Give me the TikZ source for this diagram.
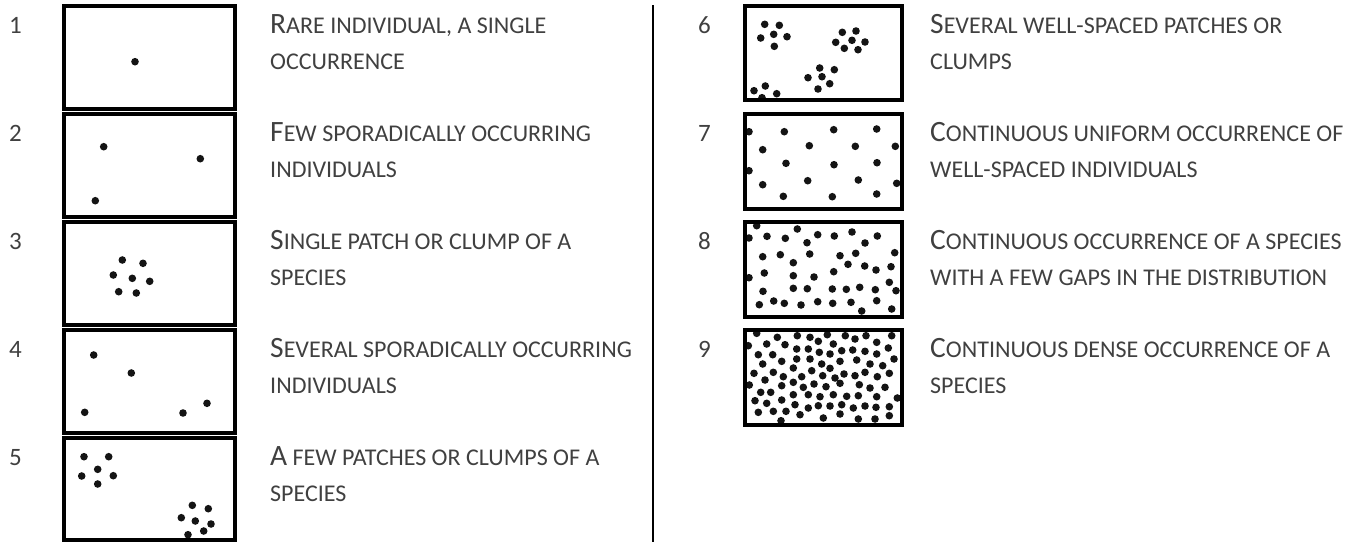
\documentclass[tikz,border=0pt]{standalone}
\usepackage{fontspec}
\setmainfont{Carlito}
\definecolor{txt}{HTML}{404040}
\newcommand\bigsz{29.5}
\newcommand\smsz{24}
\newcommand\labtext[3]{\parbox[t]{460pt}{\raggedright\fontsize{\bigsz}{36}\selectfont #1{\fontsize{\smsz}{36}\selectfont #2}\\{\fontsize{\smsz}{36}\selectfont #3}}}
\begin{document}
\begin{tikzpicture}[x=1pt,y=-1pt,
  box/.style={draw=black, line width=4pt, inner sep=0pt},
  lbox/.style={box, minimum width=171pt, minimum height=103pt},
  rbox/.style={box, minimum width=157pt, minimum height=95pt},
  num/.style={anchor=base west, inner sep=0pt, text=txt, font=\fontsize{25}{25}\selectfont},
  lab/.style={anchor=base west, inner sep=0pt, text=txt}]
\newcommand\dotsin[5]{\begin{scope}\clip (#1,#2) rectangle (#3,#4);
  \foreach \p in {#5} \fill[black!92] \p circle (3.8pt);\end{scope}}
\useasboundingbox (0,0) rectangle (1361,542);
% divider
\coordinate (dtop) at (653,5);
\coordinate (dbot) at (653,542);
\draw[line width=2pt] (dtop) -- (dbot);
% dots
\dotsin{62}{4}{237}{111}{(135,61.7)}
\dotsin{62}{112}{237}{219}{(103.7,146.7),(200.3,158.7),(95.3,200.7)}
\dotsin{62}{220}{237}{327}{(122.3,260),(143,263.3),(113.3,275),(132.3,278.3),(149.7,281.3),(118.7,291.7),(136.3,293)}
\dotsin{62}{328}{237}{435}{(93.7,355),(131.3,373),(84.7,412.3),(183,413),(207,403.3)}
\dotsin{62}{436}{237}{542}{(84,456.7),(108.7,456.7),(97.7,469.3),(81.7,476),(113.3,475.7),(97.7,484),(192.3,505.3),(208.3,508.7),(181.3,517.7),(195.3,521),(211,524),(203.7,531),(188,534.7)}
\dotsin{743}{4}{904}{102}{(764.7,24.3),(779.3,25.3),(773.7,34.3),(760.7,38),(787,36.7),(774.3,46.3),(842.3,32.3),(856,31),(852,40.3),(835.7,42.3),(865,42),(844.3,48.3),(858,49.7),(819.7,68),(834.3,69.7),(808,77.7),(822,76.7),(829.7,83.7),(818,89),(765.3,86),(754,90.7),(776.7,93.7),(762,97.7)}
\dotsin{743}{112}{904}{211}{(749,131.7),(784.3,131.7),(833.7,129.7),(876.7,129),(762.7,149.7),(809.3,145.7),(855.3,146.3),(895.3,146.3),(786,163.3),(834,164.7),(877,162.7),(749,170.7),(762.7,184.7),(807.7,180.7),(858.3,180),(896.7,183.3),(783.3,196.3),(832.3,196.7),(876.7,194)}
\dotsin{743}{220}{904}{319}{(756.7,225.7),(749,238),(767,236.3),(785.3,238.3),(797.3,229),(807,242.7),(817.7,234.7),(834.3,236),(852,232),(865,243),(877.3,236),(762.7,256.7),(780.3,254.7),(809.7,254),(840,255.7),(855.7,253.3),(894.7,252.7),(793.3,262.7),(848,264.3),(864.7,266),(876,270),(891,266.7),(749,277.7),(764.3,273),(793.3,275.7),(814,277),(833.7,271.7),(889.3,282.3),(763,291.3),(793.3,288.3),(807.3,288.7),(832.3,289),(846.3,289.3),(859.7,287.3),(875.3,289.7),(896,290.7),(759.3,304.7),(773.7,301),(784.3,303.3),(801,305),(817.7,301.7),(832.7,303.3),(851,302.3),(876.7,300.7),(861.7,311),(891.7,309)}
\dotsin{743}{328}{904}{427}{(756.7,333.3),(777.3,337.3),(797.3,335.7),(810,337.3),(827.3,334.7),(845.3,335.7),(855,339),(866,335.7),(891.7,335.7),(748.3,345.7),(766.7,344),(785,344.7),(796.7,349),(808.3,349),(818.3,341.3),(833.3,344),(841.7,350.7),(852.7,350),(865,351.3),(876.7,342.3),(888.3,348),(758.3,354.7),(772.7,354.7),(796.7,359),(810,359),(819.3,352.3),(830,354),(840,361.3),(856.7,360),(876.7,354),(894,359),(762.7,364),(781.7,361.3),(793.3,368),(821.7,364),(830,368.3),(870,364),(882.7,365.7),(754,373.3),(773.3,372.3),(783.3,376.7),(801.7,376.7),(811.7,370.7),(822.7,375.7),(835,378),(844,374),(855,375.7),(865,372.3),(877.3,376.7),(889.3,373.3),(765,380),(793.3,382.3),(814,384),(826,386.7),(840,383.3),(859.3,384.7),(870,388),(885,387.3),(749.3,385),(781.7,385.7),(803.3,387.3),(760.7,392.3),(770.7,392.3),(793.3,394.7),(808.3,394.7),(820,396.7),(833.3,394.7),(846.7,396.3),(858.3,395.7),(876.7,396.7),(897.3,398),(755,400.7),(781.7,400),(766.7,403.3),(795,404.7),(808.3,408),(818.3,405.7),(830,406),(841.7,404.7),(853.3,408),(865,406),(876,407.3),(889.3,406.7),(758.3,412.3),(773.3,411.3),(786,411.3),(800,414.7),(823.3,418),(840,414),(858.3,419),(875,419),(889.3,415.7),(781,420.7)}
% left boxes
\node[lbox] (b1) at (149.5,57.5) {};
\node[lbox] (b2) at (149.5,165.5) {};
\node[lbox] (b3) at (149.5,273.5) {};
\node[lbox] (b4) at (149.5,381.5) {};
\node[lbox, minimum height=102pt] (b5) at (149.5,489) {};
% right boxes
\node[rbox, minimum height=94pt] (b6) at (823.5,53) {};
\node[rbox] (b7) at (823.5,161.5) {};
\node[rbox] (b8) at (823.5,269.5) {};
\node[rbox] (b9) at (823.5,377.5) {};
% numbers
\node[num] (n1) at (9,33) {1};
\node[num] (n2) at (9,141) {2};
\node[num] (n3) at (9,249) {3};
\node[num] (n4) at (9,357) {4};
\node[num] (n5) at (9,465) {5};
\node[num] (n6) at (698,33) {6};
\node[num] (n7) at (698,141) {7};
\node[num] (n8) at (698,249) {8};
\node[num] (n9) at (698,357) {9};
% labels
\node[lab] (t1) at (270,33) {\labtext{R}{ARE INDIVIDUAL, A SINGLE}{OCCURRENCE}};
\node[lab] (t2) at (270,141) {\labtext{F}{EW SPORADICALLY OCCURRING}{INDIVIDUALS}};
\node[lab] (t3) at (270,249) {\labtext{S}{INGLE PATCH OR CLUMP OF A}{SPECIES}};
\node[lab] (t4) at (270,357) {\labtext{S}{EVERAL SPORADICALLY OCCURRING}{INDIVIDUALS}};
\node[lab] (t5) at (270,465) {\labtext{A}{ FEW PATCHES OR CLUMPS OF A}{SPECIES}};
\node[lab] (t6) at (930,33) {\labtext{S}{EVERAL WELL-SPACED PATCHES OR}{CLUMPS}};
\node[lab] (t7) at (930,141) {\labtext{C}{ONTINUOUS UNIFORM OCCURRENCE OF}{WELL-SPACED INDIVIDUALS}};
\node[lab] (t8) at (930,249) {\labtext{C}{ONTINUOUS OCCURRENCE OF A SPECIES}{WITH A FEW GAPS IN THE DISTRIBUTION}};
\node[lab] (t9) at (930,357) {\labtext{C}{ONTINUOUS DENSE OCCURRENCE OF A}{SPECIES}};
\end{tikzpicture}
\end{document}
